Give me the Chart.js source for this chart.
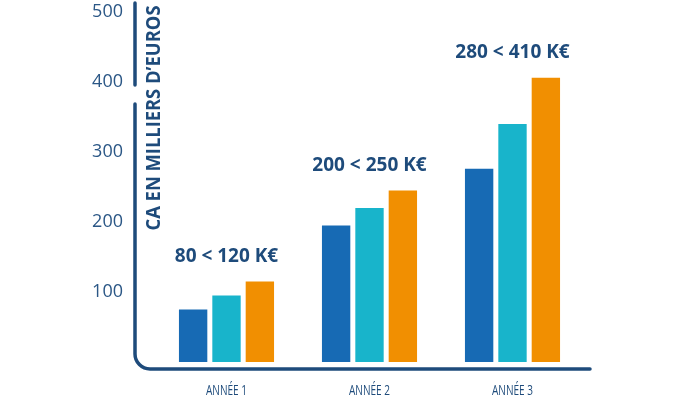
<!DOCTYPE html>
<html>
<head>
<meta charset="utf-8">
<script src="https://cdn.jsdelivr.net/npm/chart.js@4.4.1/dist/chart.umd.min.js"></script>
<style>
  html, body { margin: 0; padding: 0; background: #fff; }
</style>
</head>
<body>
<canvas id="caChart" width="680" height="400"></canvas>
<script>
// Chart data
const years = ['ANNÉE 1', 'ANNÉE 2', 'ANNÉE 3'];
const lowValues = [75, 195, 276];
const midValues = [95, 220, 340];
const highValues = [115, 245, 406];
const rangeLabels = ['80 < 120 K€', '200 < 250 K€', '280 < 410 K€'];
const yTicks = [100, 200, 300, 400, 500];
const yTitle = 'CA EN MILLIERS D’EUROS';

const NAVY = '#1e4b7b';

// Draws the broken L-shaped axis, the condensed texts and the range labels
const axisFrame = {
    id: 'axisFrame',
    afterDraw(chart) {
        const ctx = chart.ctx;
        const area = chart.chartArea;
        const y = chart.scales.y;
        const x = chart.scales.x;
        const lineX = area.left - 20;
        const lineY = area.bottom + 7;
        const r = 15;

        ctx.save();
        ctx.strokeStyle = NAVY;
        ctx.lineWidth = 3.5;
        ctx.lineCap = 'round';

        // top piece, above the break
        ctx.beginPath();
        ctx.moveTo(lineX, y.getPixelForValue(500) - 9);
        ctx.lineTo(lineX, y.getPixelForValue(400) + 3);
        ctx.stroke();

        // lower piece with rounded corner
        ctx.beginPath();
        ctx.moveTo(lineX, y.getPixelForValue(400) + 22);
        ctx.lineTo(lineX, lineY - r);
        ctx.arcTo(lineX, lineY, lineX + r, lineY, r);
        ctx.lineTo(area.right + 6, lineY);
        ctx.stroke();
        ctx.restore();

        // rotated title, squeezed to the reference length
        ctx.save();
        ctx.fillStyle = NAVY;
        ctx.font = "bold 19px 'Open Sans'";
        ctx.textAlign = 'center';
        ctx.textBaseline = 'middle';
        const tw = ctx.measureText(yTitle).width;
        ctx.translate(area.left, 118);
        ctx.rotate(-Math.PI / 2);
        ctx.scale(225 / tw, 1);
        ctx.fillText(yTitle, 0, 0);
        ctx.restore();

        // condensed category labels
        ctx.save();
        ctx.fillStyle = NAVY;
        ctx.font = "15px 'Open Sans'";
        ctx.textAlign = 'center';
        ctx.textBaseline = 'alphabetic';
        years.forEach((label, i) => {
            ctx.save();
            ctx.translate(x.getPixelForValue(i), area.bottom + 33);
            ctx.scale(0.67, 1);
            ctx.fillText(label, 0, 0);
            ctx.restore();
        });
        ctx.restore();

        // range labels above each group
        ctx.save();
        ctx.fillStyle = NAVY;
        ctx.font = "bold 19px 'Open Sans'";
        ctx.textAlign = 'center';
        ctx.textBaseline = 'middle';
        rangeLabels.forEach((label, i) => {
            ctx.fillText(label, x.getPixelForValue(i), y.getPixelForValue(highValues[i]) - 25);
        });
        ctx.restore();
    }
};

const ctx = document.getElementById('caChart').getContext('2d');
new Chart(ctx, {
    type: 'bar',
    data: {
        labels: years,
        datasets: [
            { data: lowValues, backgroundColor: '#176ab4' },
            { data: midValues, backgroundColor: '#18b4cb' },
            { data: highValues, backgroundColor: '#f18f01' }
        ]
    },
    options: {
        responsive: false,
        animation: false,
        layout: {
            padding: { left: 92, right: 96, top: 12, bottom: 0 }
        },
        datasets: {
            bar: { categoryPercentage: 0.7, barPercentage: 0.85 }
        },
        plugins: {
            legend: { display: false },
            tooltip: { enabled: false }
        },
        scales: {
            x: {
                grid: { display: false, drawTicks: false },
                border: { display: false },
                ticks: { display: false },
                afterFit(scale) {
                    scale.height = 38;
                    scale.paddingLeft = 0;
                    scale.paddingRight = 0;
                }
            },
            y: {
                min: 0,
                max: 500,
                grid: { display: false, drawTicks: false },
                border: { display: false },
                afterBuildTicks(scale) {
                    scale.ticks = yTicks.map(v => ({ value: v }));
                },
                ticks: {
                    color: '#2b5786',
                    padding: 32,
                    font: { family: "'Open Sans'", size: 18 }
                },
                afterFit(scale) {
                    scale.width = 63;
                    scale.paddingTop = 0;
                    scale.paddingBottom = 0;
                }
            }
        }
    },
    plugins: [axisFrame]
});
</script>
</body>
</html>
